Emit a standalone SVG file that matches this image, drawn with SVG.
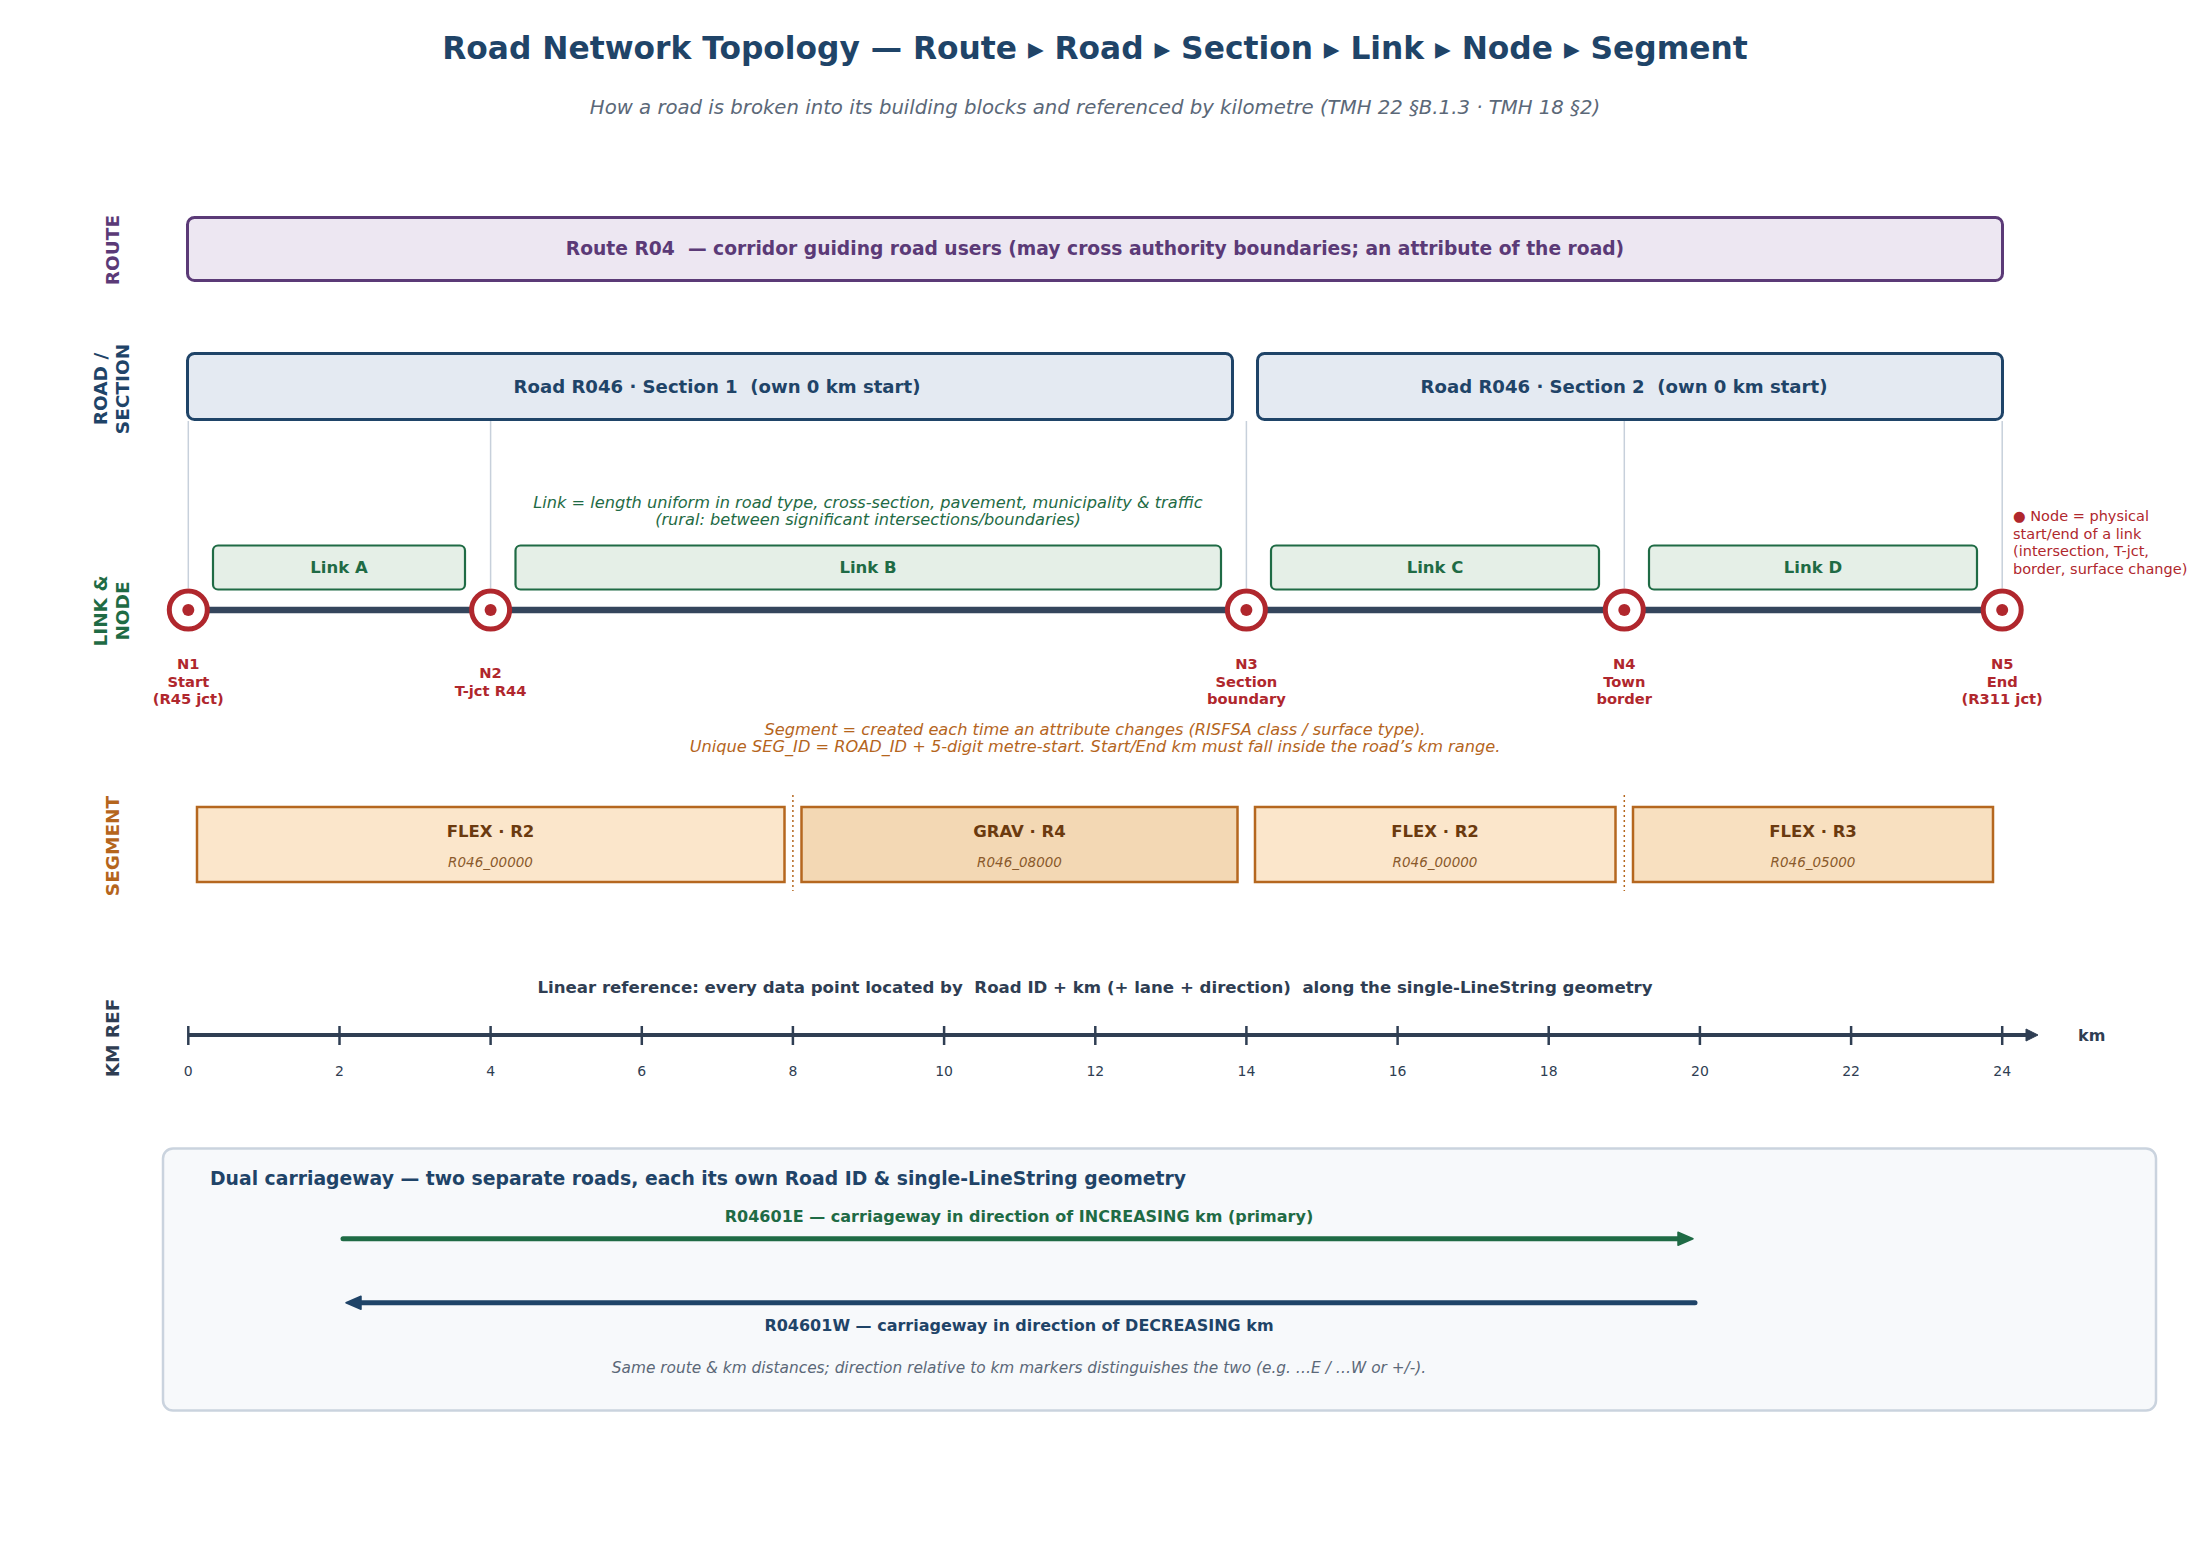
<svg xmlns="http://www.w3.org/2000/svg" width="2203" height="1560" viewBox="0 0 2203 1560">
<style>
text{font-family:"DejaVu Sans","Liberation Sans",sans-serif;white-space:pre}
.b{font-weight:bold}
.i{font-style:italic}
.mid{text-anchor:middle}
.title{font-size:31.3px;font-weight:bold;fill:#1f4468}
.sub{font-size:19.7px;font-style:italic;fill:#5b6878}
.rowlab{font-size:18.5px;font-weight:bold;text-anchor:middle}
.routeBox{fill:#ede7f2;stroke:#5b3a77;stroke-width:3}
.secBox{fill:#e4eaf2;stroke:#1f4468;stroke-width:3}
.linkBox{fill:#e5efe7;stroke:#1f6b45;stroke-width:2.2}
.segBox{stroke:#b5671f;stroke-width:2.5}
.guide{stroke:#c7d0db;stroke-width:1.5}
.nodeRing{fill:#ffffff;stroke:#b0272d;stroke-width:5}
.nodeDot{fill:#b0272d}
.nodeLab{font-size:14.7px;font-weight:bold;fill:#b0272d;text-anchor:middle}
.segLab{font-size:16.5px;font-weight:bold;fill:#6b3a0f;text-anchor:middle}
.segId{font-size:13.5px;font-style:italic;fill:#8a5a2b;text-anchor:middle}
.tick{stroke:#2f3e53;stroke-width:2.5}
.tickLab{font-size:14px;fill:#2f3e53;text-anchor:middle}
.divider{stroke:#b5671f;stroke-width:1.5;stroke-dasharray:2 3}
</style>
<defs>
<marker id="arrAxis" markerUnits="userSpaceOnUse" markerWidth="13" markerHeight="13" refX="0" refY="6.5" orient="auto" overflow="visible">
<path d="M0,0.5 L12,6.5 L0,12.5 Z" fill="#2f3e53" stroke="#2f3e53" stroke-width="1" stroke-linejoin="round"/>
</marker>
<marker id="arrG" markerUnits="userSpaceOnUse" markerWidth="17" markerHeight="15" refX="0" refY="7.5" orient="auto" overflow="visible">
<path d="M0,1 L15,7.5 L0,14 Z" fill="#1f6b45" stroke="#1f6b45" stroke-width="1.5" stroke-linejoin="round"/>
</marker>
<marker id="arrB" markerUnits="userSpaceOnUse" markerWidth="17" markerHeight="15" refX="0" refY="7.5" orient="auto" overflow="visible">
<path d="M0,1 L15,7.5 L0,14 Z" fill="#1f4468" stroke="#1f4468" stroke-width="1.5" stroke-linejoin="round"/>
</marker>
</defs>
<rect x="0" y="0" width="2203" height="1560" fill="#ffffff"/>

<g id="title">
<text class="title mid" x="1095" y="59">Road Network Topology — Route ▸ Road ▸ Section ▸ Link ▸ Node ▸ Segment</text>
<text class="sub mid" x="1095" y="113.5">How a road is broken into its building blocks and referenced by kilometre (TMH 22 §B.1.3 · TMH 18 §2)</text>
</g>

<g id="row-labels">
<text class="rowlab" fill="#5b3a77" transform="translate(118.5,250) rotate(-90)">ROUTE</text>
<text class="rowlab" fill="#1f4468" transform="translate(106.5,389) rotate(-90)">ROAD /</text>
<text class="rowlab" fill="#1f4468" transform="translate(129.3,389) rotate(-90)">SECTION</text>
<text class="rowlab" fill="#1f6b45" transform="translate(106.5,611) rotate(-90)">LINK &amp;</text>
<text class="rowlab" fill="#1f6b45" transform="translate(129.3,611) rotate(-90)">NODE</text>
<text class="rowlab" fill="#b5651d" transform="translate(118.5,846) rotate(-90)">SEGMENT</text>
<text class="rowlab" fill="#2f3e53" transform="translate(118.5,1038) rotate(-90)">KM REF</text>
</g>

<g id="route">
<rect class="routeBox" x="187.5" y="217.5" width="1815" height="63" rx="7"/>
<text class="b mid" x="1095" y="254.5" font-size="18.7" fill="#5b3a77">Route R04  — corridor guiding road users (may cross authority boundaries; an attribute of the road)</text>
</g>

<g id="section-1">
<rect class="secBox" x="187.5" y="353.5" width="1045" height="66" rx="7"/>
<text class="b mid" x="717" y="393" font-size="18.1" fill="#1f4468">Road R046 · Section 1  (own 0 km start)</text>
</g>
<g id="section-2">
<rect class="secBox" x="1257.5" y="353.5" width="745" height="66" rx="7"/>
<text class="b mid" x="1624" y="393" font-size="18.1" fill="#1f4468">Road R046 · Section 2  (own 0 km start)</text>
</g>

<g id="connectors">
<line class="guide" x1="188.3" y1="421" x2="188.3" y2="588"/>
<line class="guide" x1="490.6" y1="421" x2="490.6" y2="588"/>
<line class="guide" x1="1246.4" y1="421" x2="1246.4" y2="588"/>
<line class="guide" x1="1624.3" y1="421" x2="1624.3" y2="588"/>
<line class="guide" x1="2002.2" y1="421" x2="2002.2" y2="588"/>
<line x1="188.3" y1="610" x2="2002.2" y2="610" stroke="#34455c" stroke-width="6.5"/>
<line class="divider" x1="792.9" y1="795" x2="792.9" y2="891"/>
<line class="divider" x1="1624.3" y1="795" x2="1624.3" y2="891"/>
</g>

<g id="link-note">
<text class="i mid" x="868" y="508" font-size="16.2" fill="#1f6b45">Link = length uniform in road type, cross-section, pavement, municipality &amp; traffic</text>
<text class="i mid" x="868" y="525" font-size="16.2" fill="#1f6b45">(rural: between significant intersections/boundaries)</text>
</g>

<g id="link-A">
<rect class="linkBox" x="213" y="545.5" width="252" height="44" rx="5"/>
<text class="b mid" x="339" y="573" font-size="16.5" fill="#1f6b45">Link A</text>
</g>
<g id="link-B">
<rect class="linkBox" x="515.5" y="545.5" width="705.5" height="44" rx="5"/>
<text class="b mid" x="868" y="573" font-size="16.5" fill="#1f6b45">Link B</text>
</g>
<g id="link-C">
<rect class="linkBox" x="1271" y="545.5" width="328" height="44" rx="5"/>
<text class="b mid" x="1435" y="573" font-size="16.5" fill="#1f6b45">Link C</text>
</g>
<g id="link-D">
<rect class="linkBox" x="1649" y="545.5" width="328" height="44" rx="5"/>
<text class="b mid" x="1813" y="573" font-size="16.5" fill="#1f6b45">Link D</text>
</g>

<g id="node-N1">
<circle class="nodeRing" cx="188.3" cy="610" r="19"/>
<circle class="nodeDot" cx="188.3" cy="610" r="6"/>
<text class="nodeLab" x="188.3" y="669"><tspan x="188.3">N1</tspan><tspan x="188.3" dy="17.5">Start</tspan><tspan x="188.3" dy="17.5">(R45 jct)</tspan></text>
</g>
<g id="node-N2">
<circle class="nodeRing" cx="490.6" cy="610" r="19"/>
<circle class="nodeDot" cx="490.6" cy="610" r="6"/>
<text class="nodeLab" x="490.6" y="678"><tspan x="490.6">N2</tspan><tspan x="490.6" dy="17.5">T-jct R44</tspan></text>
</g>
<g id="node-N3">
<circle class="nodeRing" cx="1246.4" cy="610" r="19"/>
<circle class="nodeDot" cx="1246.4" cy="610" r="6"/>
<text class="nodeLab" x="1246.4" y="669"><tspan x="1246.4">N3</tspan><tspan x="1246.4" dy="17.5">Section</tspan><tspan x="1246.4" dy="17.5">boundary</tspan></text>
</g>
<g id="node-N4">
<circle class="nodeRing" cx="1624.3" cy="610" r="19"/>
<circle class="nodeDot" cx="1624.3" cy="610" r="6"/>
<text class="nodeLab" x="1624.3" y="669"><tspan x="1624.3">N4</tspan><tspan x="1624.3" dy="17.5">Town</tspan><tspan x="1624.3" dy="17.5">border</tspan></text>
</g>
<g id="node-N5">
<circle class="nodeRing" cx="2002.2" cy="610" r="19"/>
<circle class="nodeDot" cx="2002.2" cy="610" r="6"/>
<text class="nodeLab" x="2002.2" y="669"><tspan x="2002.2">N5</tspan><tspan x="2002.2" dy="17.5">End</tspan><tspan x="2002.2" dy="17.5">(R311 jct)</tspan></text>
</g>

<g id="node-note">
<text x="2013" y="521" font-size="14.5" fill="#b0272d"><tspan x="2013">● Node = physical</tspan><tspan x="2013" dy="17.5">start/end of a link</tspan><tspan x="2013" dy="17.5">(intersection, T-jct,</tspan><tspan x="2013" dy="17.5">border, surface change)</tspan></text>
</g>

<g id="segment-note">
<text class="i mid" x="1095" y="735" font-size="16.2" fill="#b5651d">Segment = created each time an attribute changes (RISFSA class / surface type).</text>
<text class="i mid" x="1095" y="752" font-size="16.2" fill="#b5651d">Unique SEG_ID = ROAD_ID + 5-digit metre-start. Start/End km must fall inside the road’s km range.</text>
</g>

<g id="segment-1">
<rect class="segBox" x="197" y="807" width="587.5" height="75" fill="#fbe6cb"/>
<text class="segLab" x="490.5" y="836.5">FLEX · R2</text>
<text class="segId" x="490.5" y="867">R046_00000</text>
</g>
<g id="segment-2">
<rect class="segBox" x="801.5" y="807" width="436" height="75" fill="#f3d8b4"/>
<text class="segLab" x="1019.5" y="836.5">GRAV · R4</text>
<text class="segId" x="1019.5" y="867">R046_08000</text>
</g>
<g id="segment-3">
<rect class="segBox" x="1255" y="807" width="360.5" height="75" fill="#fbe6cb"/>
<text class="segLab" x="1435" y="836.5">FLEX · R2</text>
<text class="segId" x="1435" y="867">R046_00000</text>
</g>
<g id="segment-4">
<rect class="segBox" x="1633" y="807" width="360" height="75" fill="#f8e0c0"/>
<text class="segLab" x="1813" y="836.5">FLEX · R3</text>
<text class="segId" x="1813" y="867">R046_05000</text>
</g>

<g id="km-ref">
<text class="b mid" x="1095" y="993" font-size="16.6" fill="#2f3e53">Linear reference: every data point located by  Road ID + km (+ lane + direction)  along the single-LineString geometry</text>
<line x1="188.3" y1="1035" x2="2026" y2="1035" stroke="#2f3e53" stroke-width="4" marker-end="url(#arrAxis)"/>
<line class="tick" x1="188.3" y1="1026" x2="188.3" y2="1045"/>
<line class="tick" x1="339.5" y1="1026" x2="339.5" y2="1045"/>
<line class="tick" x1="490.6" y1="1026" x2="490.6" y2="1045"/>
<line class="tick" x1="641.8" y1="1026" x2="641.8" y2="1045"/>
<line class="tick" x1="792.9" y1="1026" x2="792.9" y2="1045"/>
<line class="tick" x1="944.1" y1="1026" x2="944.1" y2="1045"/>
<line class="tick" x1="1095.3" y1="1026" x2="1095.3" y2="1045"/>
<line class="tick" x1="1246.4" y1="1026" x2="1246.4" y2="1045"/>
<line class="tick" x1="1397.6" y1="1026" x2="1397.6" y2="1045"/>
<line class="tick" x1="1548.7" y1="1026" x2="1548.7" y2="1045"/>
<line class="tick" x1="1699.9" y1="1026" x2="1699.9" y2="1045"/>
<line class="tick" x1="1851.1" y1="1026" x2="1851.1" y2="1045"/>
<line class="tick" x1="2002.2" y1="1026" x2="2002.2" y2="1045"/>
<text class="tickLab" x="188.3" y="1076">0</text>
<text class="tickLab" x="339.5" y="1076">2</text>
<text class="tickLab" x="490.6" y="1076">4</text>
<text class="tickLab" x="641.8" y="1076">6</text>
<text class="tickLab" x="792.9" y="1076">8</text>
<text class="tickLab" x="944.1" y="1076">10</text>
<text class="tickLab" x="1095.3" y="1076">12</text>
<text class="tickLab" x="1246.4" y="1076">14</text>
<text class="tickLab" x="1397.6" y="1076">16</text>
<text class="tickLab" x="1548.7" y="1076">18</text>
<text class="tickLab" x="1699.9" y="1076">20</text>
<text class="tickLab" x="1851.1" y="1076">22</text>
<text class="tickLab" x="2002.2" y="1076">24</text>
<text class="b" x="2078" y="1041" font-size="16" fill="#2f3e53">km</text>
</g>

<g id="dual-carriageway">
<rect x="163" y="1148.5" width="1993" height="262" rx="10" fill="#f7f9fb" stroke="#cad3de" stroke-width="2.5"/>
<text class="b" x="210" y="1185" font-size="18.8" fill="#1f4468">Dual carriageway — two separate roads, each its own Road ID &amp; single-LineString geometry</text>
<text class="b mid" x="1019" y="1222" font-size="16" fill="#1f6b45">R04601E — carriageway in direction of INCREASING km (primary)</text>
<line x1="343" y1="1238.7" x2="1678" y2="1238.7" stroke="#1f6b45" stroke-width="5" stroke-linecap="round" marker-end="url(#arrG)"/>
<line x1="1695" y1="1302.7" x2="361" y2="1302.7" stroke="#1f4468" stroke-width="5" stroke-linecap="round" marker-end="url(#arrB)"/>
<text class="b mid" x="1019" y="1330.5" font-size="16" fill="#1f4468">R04601W — carriageway in direction of DECREASING km</text>
<text class="i mid" x="1019" y="1373" font-size="15.35" fill="#5b6878">Same route &amp; km distances; direction relative to km markers distinguishes the two (e.g. …E / …W or +/-).</text>
</g>
</svg>
